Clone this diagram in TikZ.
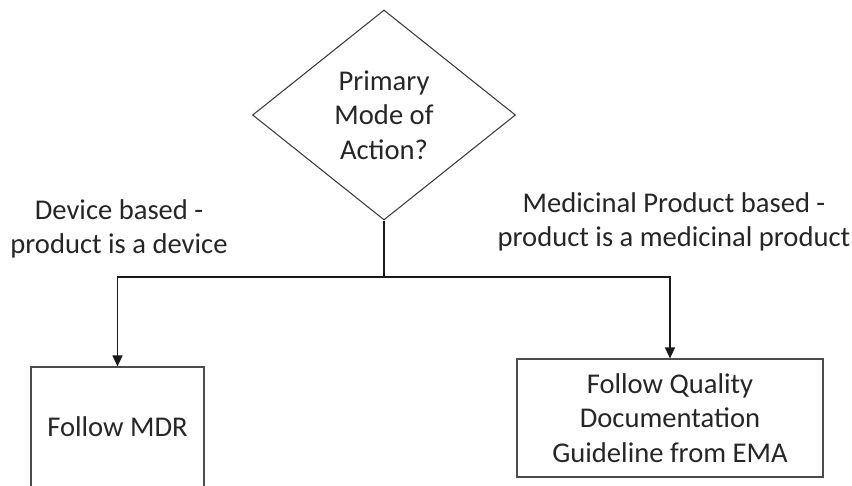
\documentclass[tikz,border=0pt]{standalone}
\usepackage{fontspec}
\setmainfont{Carlito}
\usepackage{tikz}
\usetikzlibrary{positioning,shapes.geometric,arrows.meta}

\begin{document}
\begin{tikzpicture}[
			x=1pt, y=-1pt,
			every node/.style={font=\fontsize{28.6}{34.5}\selectfont, text=black!85, align=center},
			decisionnode/.style={diamond, draw=black!75, line width=1.1pt, inner sep=0pt, minimum width=263pt, minimum height=210pt},
			stepnode/.style={rectangle, draw=black!70, line width=1.2pt, inner sep=0pt},
			labelnode/.style={inner sep=0pt},
			flow/.style={line width=1.4pt, draw=black!90},
		]
		
			\useasboundingbox (0,0) rectangle (852,485);
		
			%Nodes
			\node[decisionnode]		(pmoa)	at (384,115)	{Primary\\Mode of\\Action?};
			\node[stepnode, minimum width=173pt, minimum height=120pt]	(mdr)	at (117.5,427)	{Follow MDR};
			\node[stepnode, minimum width=306pt, minimum height=118pt]	(ema)	at (670,418)	{Follow Quality\\Documentation\\Guideline from EMA};
			\node[labelnode]	(devlbl)	at (119,229)	{Device based -\\product is a device};
			\node[labelnode]	(medlbl)	at (674,222)	{Medicinal Product based -\\product is a medicinal product};
			\coordinate		(split)	at (384,277);
		
			%Lines
			\draw[flow]	(pmoa.south) -- (split);
			\draw[flow, -{Triangle[length=11pt,width=10pt]}]	(split) -| (mdr.north);
			\draw[flow, -{Triangle[length=11pt,width=10pt]}]	(split) -| (ema.north);
		
		\end{tikzpicture}
\end{document}
